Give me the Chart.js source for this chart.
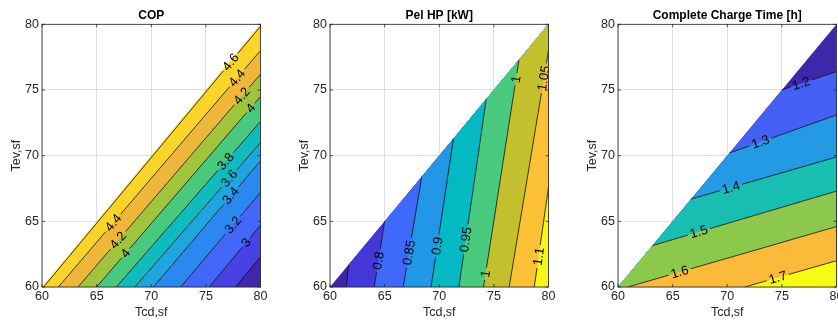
<!DOCTYPE html>
<html>
<head>
<meta charset="utf-8">
<script src="https://cdn.jsdelivr.net/npm/chart.js@4.4.1/dist/chart.umd.min.js"></script>
<style>
html, body { margin: 0; padding: 0; background: #fff; overflow: hidden; width: 838px; height: 326px; }
.panel { position: absolute; top: 0; width: 288px; height: 326px; }
</style>
</head>
<body>
<div class="panel" style="left:0"><canvas id="copChart" width="288" height="326"></canvas></div>
<div class="panel" style="left:288px"><canvas id="pelChart" width="288" height="326"></canvas></div>
<div class="panel" style="left:576px"><canvas id="timeChart" width="288" height="326"></canvas></div>
<script>
// both axes run 60..80 (Tcd on x, Tev on y)
const tickValues = [60, 65, 70, 75, 80];
// data only exists where Tev <= Tcd, walked clockwise
const domain = [[60, 60], [80, 80], [80, 60]];

// contour lines as [Tcd, Tev] points, from start to end (lower side on the right)
const copLevels = [4.6, 4.4, 4.2, 4, 3.8, 3.6, 3.4, 3.2, 3, 2.8];
const copLines = [
  [[60.15, 60], [80, 79.85]],
  [[61.5, 60], [80, 78.0]],
  [[63.3, 60], [80, 76.2]],
  [[65.0, 60], [80, 74.5]],
  [[66.8, 60], [80, 72.6]],
  [[68.5, 60], [80, 71.0]],
  [[70.2, 60], [80, 69.6]],
  [[72.7, 60], [80, 67.2]],
  [[75.3, 60], [80, 64.7]],
  [[77.7, 60], [80, 62.3]]
];
// [line, Tcd, Tev] where a label sits
const copLabels = [
  [0, 77.3, 77.1], [1, 78.0, 75.8], [2, 78.2, 74.6], [3, 79.0, 73.7],
  [4, 76.9, 69.5], [5, 77.1, 68.3], [6, 77.2, 67.0], [7, 77.5, 64.7], [8, 78.8, 63.3],
  [1, 66.5, 64.9], [2, 66.9, 63.6], [3, 67.6, 62.6]
];

const pelLevels = [0.75, 0.8, 0.85, 0.9, 0.95, 1, 1.05, 1.1];
const pelLines = [
  [[61.5, 60], [61.7, 61.7]],
  [[64.05, 60], [65.0, 65.0]],
  [[66.7, 60], [68.4, 68.4]],
  [[69.25, 60], [71.3, 71.3]],
  [[71.8, 60], [74.3, 74.3]],
  [[74.05, 60], [77.3, 77.3]],
  [[76.4, 60], [80, 78.0]],
  [[78.7, 60], [80, 67.6]]
];
const pelLabels = [
  [1, 64.5, 62.0], [2, 67.3, 62.6], [3, 70.0, 63.1], [4, 72.5, 63.6],
  [5, 74.3, 61.0], [5, 77.1, 75.8], [6, 79.5, 75.9], [7, 79.3, 62.3]
];

const timeLevels = [1.2, 1.3, 1.4, 1.5, 1.6, 1.7];
const timeLines = [
  [[75.0, 75.0], [80, 76.4]],
  [[70.2, 70.2], [80, 73.1]],
  [[66.7, 66.7], [80, 69.9]],
  [[63.15, 63.15], [80, 67.3]],
  [[60.9, 60], [80, 64.6]],
  [[71.6, 60], [80, 62.0]]
];
const timeLabels = [
  [0, 76.8, 75.4], [1, 73.1, 70.9], [2, 70.4, 67.4], [3, 67.4, 64.2], [4, 65.7, 61.0], [5, 74.7, 60.5]
];

// band colours (parula), first one is the band before the first line
const copColors = ['#F9DA2A', '#F9D52B', '#EFB73A', '#A0C43C', '#48C97E', '#0FBBBD', '#1EA6DF', '#2B88F0', '#4367FB', '#4841E4', '#3E27A9'];
const pelColors = ['#3E26A8', '#4538D8', '#3F69FB', '#2397E7', '#05B9C3', '#4ACA7E', '#C4BF2C', '#FCC035', '#F6F619'];
const timeColors = ['#3E27AA', '#4561F5', '#2499E4', '#17BEB1', '#8CC84B', '#FCBA3B', '#F9FB14'];

const fontFamily = "'Liberation Sans', Arial, sans-serif";
const axisColor = '#262626';

// position of a boundary point along the domain outline (0..3)
function edgeParam(p) {
  let best = { d: Infinity, s: 0 };
  for (let k = 0; k < 3; k++) {
    const a = domain[k], b = domain[(k + 1) % 3];
    const dx = b[0] - a[0], dy = b[1] - a[1];
    let t = ((p[0] - a[0]) * dx + (p[1] - a[1]) * dy) / (dx * dx + dy * dy);
    t = Math.max(0, Math.min(1, t));
    const d = Math.hypot(a[0] + t * dx - p[0], a[1] + t * dy - p[1]);
    if (d < best.d) best = { d, s: k + t };
  }
  return best.s;
}

// the part of the domain lying past a contour line
function beyond(line) {
  const se = edgeParam(line[line.length - 1]);
  const ss = edgeParam(line[0]);
  const span = (ss - se + 3) % 3;
  const corners = [0, 1, 2]
    .map(i => ({ i, f: (i - se + 3) % 3 }))
    .filter(c => c.f > 1e-9 && c.f < span)
    .sort((a, b) => a.f - b.f)
    .map(c => domain[c.i]);
  const poly = line.concat(corners);
  poly.push(line[0]);
  return poly;
}

function contourPlugin(levels, lines, labels) {
  return {
    id: 'contourLines',
    afterDatasetsDraw(chart) {
      const { ctx, chartArea: area, scales: { x, y } } = chart;
      ctx.save();
      ctx.beginPath();
      ctx.rect(area.left, area.top, area.right - area.left, area.bottom - area.top);
      ctx.clip();
      ctx.font = '13px ' + fontFamily;
      lines.forEach((ln, i) => {
        const px = ln.map(p => [x.getPixelForValue(p[0]), y.getPixelForValue(p[1])]);
        const cum = [0];
        for (let k = 1; k < px.length; k++) {
          cum.push(cum[k - 1] + Math.hypot(px[k][0] - px[k - 1][0], px[k][1] - px[k - 1][1]));
        }
        const total = cum[cum.length - 1];
        const at = s => {
          s = Math.max(0, Math.min(total, s));
          let k = 1;
          while (k < px.length - 1 && cum[k] < s) k++;
          const t = (s - cum[k - 1]) / (cum[k] - cum[k - 1]);
          return [px[k - 1][0] + t * (px[k][0] - px[k - 1][0]), px[k - 1][1] + t * (px[k][1] - px[k - 1][1]), k];
        };

        const gaps = [], marks = [];
        labels.filter(l => l[0] === i).forEach(l => {
          const q = [x.getPixelForValue(l[1]), y.getPixelForValue(l[2])];
          let best = { d: Infinity, s: 0, k: 1 };
          for (let k = 1; k < px.length; k++) {
            const a = px[k - 1], b = px[k];
            const dx = b[0] - a[0], dy = b[1] - a[1];
            let t = ((q[0] - a[0]) * dx + (q[1] - a[1]) * dy) / (dx * dx + dy * dy);
            t = Math.max(0, Math.min(1, t));
            const d = Math.hypot(a[0] + t * dx - q[0], a[1] + t * dy - q[1]);
            if (d < best.d) best = { d, s: cum[k - 1] + t * (cum[k] - cum[k - 1]), k };
          }
          const text = String(levels[i]);
          const w = ctx.measureText(text).width;
          gaps.push([best.s - w / 2 - 2.5, best.s + w / 2 + 2.5]);
          marks.push({ text, s: best.s, k: best.k });
        });

        gaps.sort((a, b) => a[0] - b[0]);
        const spans = [];
        let s0 = 0;
        gaps.forEach(g => {
          if (g[0] > s0) spans.push([s0, g[0]]);
          s0 = Math.max(s0, g[1]);
        });
        if (s0 < total) spans.push([s0, total]);

        ctx.strokeStyle = '#111';
        ctx.lineWidth = 0.8;
        spans.forEach(([a, b]) => {
          const p = at(a), e = at(b);
          ctx.beginPath();
          ctx.moveTo(p[0], p[1]);
          for (let k = 1; k < px.length - 1; k++) {
            if (cum[k] > a && cum[k] < b) ctx.lineTo(px[k][0], px[k][1]);
          }
          ctx.lineTo(e[0], e[1]);
          ctx.stroke();
        });

        marks.forEach(m => {
          const p = at(m.s);
          const a0 = px[m.k - 1], a1 = px[m.k];
          let ang = Math.atan2(a1[1] - a0[1], a1[0] - a0[0]);
          if (ang > Math.PI / 2) ang -= Math.PI;
          if (ang < -Math.PI / 2) ang += Math.PI;
          ctx.save();
          ctx.translate(p[0], p[1]);
          ctx.rotate(ang);
          ctx.fillStyle = '#000';
          ctx.textAlign = 'center';
          ctx.textBaseline = 'middle';
          ctx.fillText(m.text, 0, 0.5);
          ctx.restore();
        });
      });
      ctx.restore();
    }
  };
}

// matlab style box with inward ticks
const boxPlugin = {
  id: 'box',
  afterDraw(chart) {
    const { ctx, chartArea: a, scales: { x, y } } = chart;
    ctx.save();
    ctx.strokeStyle = axisColor;
    ctx.lineWidth = 0.8;
    ctx.strokeRect(a.left, a.top, a.right - a.left, a.bottom - a.top);
    ctx.beginPath();
    tickValues.forEach(v => {
      const px = x.getPixelForValue(v), py = y.getPixelForValue(v);
      ctx.moveTo(px, a.bottom); ctx.lineTo(px, a.bottom - 3);
      ctx.moveTo(px, a.top); ctx.lineTo(px, a.top + 3);
      ctx.moveTo(a.left, py); ctx.lineTo(a.left + 3, py);
      ctx.moveTo(a.right, py); ctx.lineTo(a.right - 3, py);
    });
    ctx.stroke();
    ctx.restore();
  }
};

function axis(titleText, isX) {
  return {
    type: 'linear',
    min: 60,
    max: 80,
    z: 1,
    afterBuildTicks: s => { s.ticks = tickValues.map(v => ({ value: v })); },
    afterFit: s => { if (isX) s.height = 39; else s.width = 42; },
    ticks: { font: { family: fontFamily, size: 12.5 }, color: axisColor, padding: isX ? 2 : 3, maxRotation: 0, autoSkip: false },
    grid: { color: 'rgba(38,38,38,0.15)', drawTicks: false, lineWidth: 1 },
    border: { display: false },
    title: {
      display: true,
      text: titleText,
      color: axisColor,
      font: { family: fontFamily, size: 12.5, lineHeight: 1.2 },
      padding: isX ? { top: 0, bottom: 5.5 } : { top: 9.5, bottom: 0 }
    }
  };
}

function makeChart(id, title, levels, lines, labels, colors) {
  const toPt = p => ({ x: p[0], y: p[1] });
  const bands = [domain.concat([domain[0]])].concat(lines.map(beyond));
  const datasets = bands.map((poly, i) => ({
    data: poly.map(toPt),
    backgroundColor: colors[i],
    borderColor: 'rgba(0,0,0,0)',
    borderWidth: 0,
    pointRadius: 0,
    tension: 0,
    fill: 'shape',
    order: -i
  }));
  new Chart(document.getElementById(id), {
    type: 'line',
    data: { datasets },
    options: {
      responsive: false,
      animation: false,
      layout: { padding: { top: 0, right: 27.5, bottom: 0, left: 0 } },
      scales: { x: axis('Tcd,sf', true), y: axis('Tev,sf', false) },
      plugins: {
        legend: { display: false },
        tooltip: { enabled: false },
        title: {
          display: true,
          text: title,
          fullSize: false,
          color: '#000',
          font: { family: fontFamily, size: 12, weight: 'bold', lineHeight: 1.2 },
          padding: { top: 8, bottom: 1.9 }
        }
      }
    },
    plugins: [contourPlugin(levels, lines, labels), boxPlugin]
  });
}

makeChart('copChart', 'COP', copLevels, copLines, copLabels, copColors);
makeChart('pelChart', 'Pel HP [kW]', pelLevels, pelLines, pelLabels, pelColors);
makeChart('timeChart', 'Complete Charge Time [h]', timeLevels, timeLines, timeLabels, timeColors);
</script>
</body>
</html>
